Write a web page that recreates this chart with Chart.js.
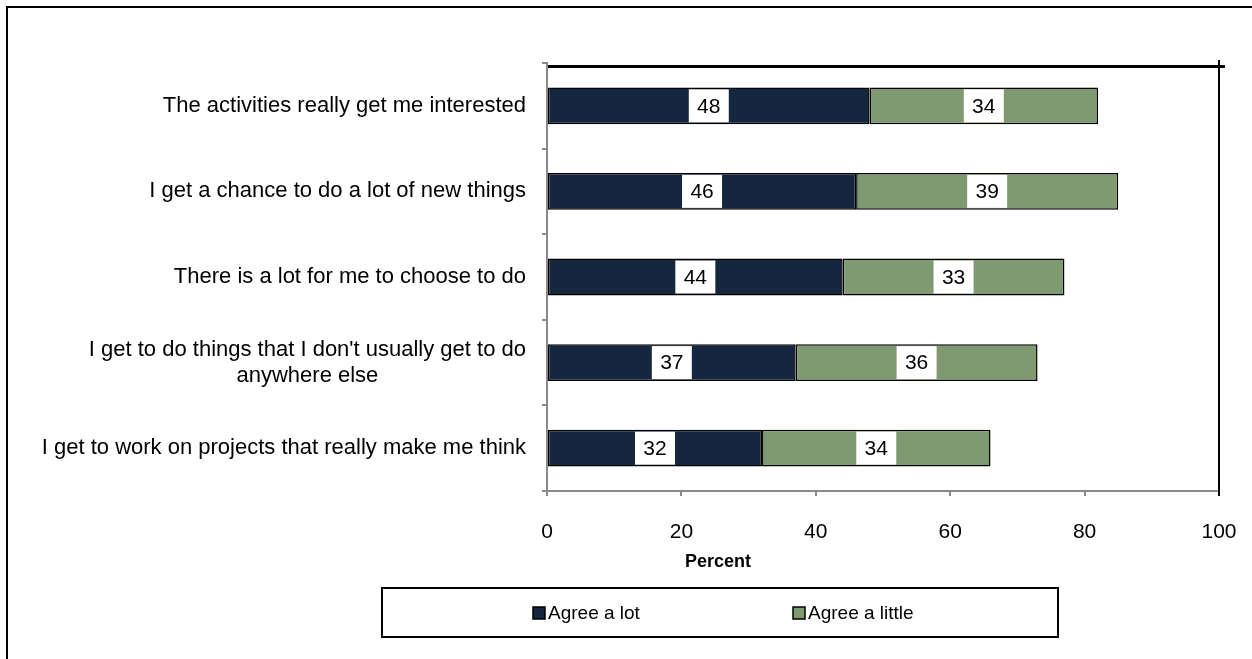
<!DOCTYPE html>
<html>
<head>
<meta charset="utf-8">
<script src="https://cdn.jsdelivr.net/npm/chart.js@4.4.1/dist/chart.umd.min.js"></script>
<style>
  html, body { margin: 0; padding: 0; background: #fff; }
  #wrap { position: relative; width: 1252px; height: 659px; }
</style>
</head>
<body>
<div id="wrap"><canvas id="chart"></canvas></div>
<script>
/* ---------------- data ---------------- */
const categories = [
  ["The activities really get me interested"],
  ["I get a chance to do a lot of new things"],
  ["There is a lot for me to choose to do"],
  ["I get to do things that I don't usually get to do", "anywhere else"],
  ["I get to work on projects that really make me think"],
];
const agreeALot = [48, 46, 44, 37, 32];
const agreeALittle = [34, 39, 33, 36, 34];
const xTicks = [0, 20, 40, 60, 80, 100];
const seriesNames = ["Agree a lot", "Agree a little"];
const seriesColors = ["#14273f", "#7f9a71"];
const xTitle = "Percent";

const FONT = '"Liberation Sans", Arial, Helvetica, sans-serif';
const AXIS_GRAY = "#8a8a8a";

/* ---------------- drawing helpers ---------------- */
const decorPlugin = {
  id: "decor",
  beforeDraw(chart) {
    const ctx = chart.ctx;
    ctx.save();
    ctx.fillStyle = "#fff";
    ctx.fillRect(0, 0, chart.width, chart.height);
    // outer frame (only top and left edges visible)
    ctx.strokeStyle = "#000";
    ctx.lineWidth = 2;
    ctx.beginPath();
    ctx.moveTo(7, chart.height + 5);
    ctx.lineTo(7, 7);
    ctx.lineTo(chart.width + 5, 7);
    ctx.stroke();
    ctx.restore();
  },
  afterDatasetsDraw(chart) {
    const ctx = chart.ctx;
    ctx.save();
    ctx.font = `21px ${FONT}`;
    ctx.textAlign = "center";
    ctx.textBaseline = "middle";
    chart.data.datasets.forEach((ds, di) => {
      chart.getDatasetMeta(di).data.forEach((bar, i) => {
        const cx = (bar.x + bar.base) / 2;
        ctx.fillStyle = "#fff";
        ctx.fillRect(cx - 20, bar.y - 16.5, 40, 33);
        ctx.fillStyle = "#000";
        ctx.fillText(String(ds.data[i]), cx, bar.y + 1);
      });
    });
    ctx.restore();
  },
  afterDraw(chart) {
    const ctx = chart.ctx;
    const { top, right, bottom } = chart.chartArea;
    ctx.save();
    // black top and right lines of the plot
    ctx.strokeStyle = "#000";
    ctx.lineWidth = 3;
    ctx.beginPath();
    ctx.moveTo(548, top + 3.5);
    ctx.lineTo(right + 6, top + 3.5);
    ctx.stroke();
    ctx.lineWidth = 2;
    ctx.beginPath();
    ctx.moveTo(right, top - 3);
    ctx.lineTo(right, bottom + 5);
    ctx.stroke();

    // category labels: block right-aligned, lines centred
    const yScale = chart.scales.y;
    ctx.font = `22px ${FONT}`;
    ctx.fillStyle = "#000";
    ctx.textAlign = "center";
    ctx.textBaseline = "middle";
    chart.data.labels.forEach((lines, i) => {
      const yc = yScale.getPixelForValue(i);
      const w = Math.max(...lines.map((l) => ctx.measureText(l).width));
      const cx = 526 - w / 2;
      lines.forEach((l, j) => {
        ctx.fillText(l, cx, yc + (j - (lines.length - 1) / 2) * 26);
      });
    });

    // axis title
    ctx.font = `bold 18px ${FONT}`;
    ctx.fillText(xTitle, 718, 562);

    // legend box
    ctx.lineWidth = 2;
    ctx.strokeRect(382, 588, 676, 49);
    const itemX = [533, 793];
    ctx.font = `19px ${FONT}`;
    ctx.textAlign = "left";
    chart.data.datasets.forEach((ds, i) => {
      ctx.fillStyle = ds.backgroundColor;
      ctx.fillRect(itemX[i], 607, 12, 12);
      ctx.lineWidth = 1.5;
      ctx.strokeStyle = "#000";
      ctx.strokeRect(itemX[i], 607, 12, 12);
      ctx.fillStyle = "#000";
      ctx.fillText(ds.label, itemX[i] + 15, 614);
    });
    ctx.restore();
  },
};

/* ---------------- chart ---------------- */
const ctx = document.getElementById("chart").getContext("2d");
new Chart(ctx, {
  type: "bar",
  data: {
    labels: categories,
    datasets: [
      {
        label: seriesNames[0],
        data: agreeALot,
        backgroundColor: seriesColors[0],
        borderColor: "#000",
        borderWidth: 1.5,
        borderSkipped: false,
      },
      {
        label: seriesNames[1],
        data: agreeALittle,
        backgroundColor: seriesColors[1],
        borderColor: "#000",
        borderWidth: 1.5,
        borderSkipped: false,
      },
    ],
  },
  options: {
    indexAxis: "y",
    responsive: true,
    maintainAspectRatio: false,
    animation: false,
    events: [],
    barPercentage: 0.43,
    categoryPercentage: 1,
    layout: { padding: { top: 63, right: 33, left: 0, bottom: 0 } },
    plugins: {
      legend: { display: false },
      tooltip: { enabled: false },
    },
    scales: {
      x: {
        stacked: true,
        min: 0,
        max: 100,
        afterBuildTicks: (s) => {
          s.ticks = xTicks.map((v) => ({ value: v }));
        },
        afterFit: (s) => {
          s.height = 168;
          s.paddingLeft = 0;
          s.paddingRight = 0;
        },
        border: { color: AXIS_GRAY, width: 2 },
        grid: {
          drawOnChartArea: false,
          drawTicks: true,
          tickLength: 5,
          color: AXIS_GRAY,
          lineWidth: 2,
        },
        ticks: {
          color: "#000",
          font: { family: FONT, size: 21 },
          padding: 24,
          maxRotation: 0,
        },
      },
      y: {
        stacked: true,
        afterFit: (s) => {
          s.width = 547;
          s.paddingTop = 0;
          s.paddingBottom = 0;
        },
        border: { color: AXIS_GRAY, width: 2 },
        grid: {
          offset: true,
          drawOnChartArea: false,
          drawTicks: true,
          tickLength: 5,
          color: AXIS_GRAY,
          lineWidth: 2,
        },
        ticks: { display: false },
      },
    },
  },
  plugins: [decorPlugin],
});
</script>
</body>
</html>
